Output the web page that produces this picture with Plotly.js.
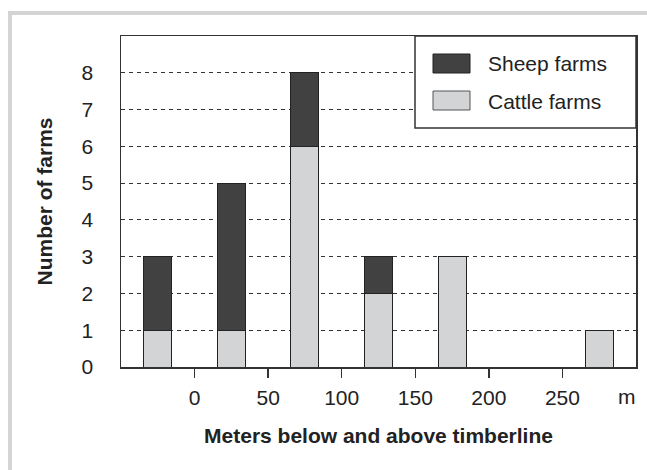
<!DOCTYPE html>
<html>
<head>
<meta charset="utf-8">
<script src="https://cdn.plot.ly/plotly-3.0.1.min.js"></script>
<style>
  html, body { margin: 0; padding: 0; background: #fff; }
  #chart { width: 647px; height: 470px; }
</style>
</head>
<body>
<div id="chart"></div>
<script>
// Data (meters below/above timberline, bar centers)
const elevation = [-25, 25, 75, 125, 175, 275];
const cattleFarms = [1, 1, 6, 2, 3, 1];
const sheepFarms = [2, 4, 2, 1, 0, 0];
const xTickVals = [0, 50, 100, 150, 200, 250];
const yTickVals = [0, 1, 2, 3, 4, 5, 6, 7, 8];
const seriesNames = ["Sheep farms", "Cattle farms"];

const W = 647, H = 470;
const L = 121, R = 11, T = 36, B = 103;
const pw = W - L - R, ph = H - T - B;
const px = v => (v - L) / pw;
const py = v => (H - B - v) / ph;

const textColor = "#222";
const lineColor = "#333";
const sheepColor = "#414141";
const cattleColor = "#d3d4d6";
const font = "Liberation Sans, Arial, sans-serif";
const fs = 21;

const traces = [
  {
    type: "bar", x: elevation, y: cattleFarms, name: seriesNames[1], width: 19,
    marker: { color: cattleColor, line: { color: "#222", width: 1 } },
    hoverinfo: "x+y+name"
  },
  {
    type: "bar", x: elevation, y: sheepFarms.map(v => v === 0 ? null : v), name: seriesNames[0], width: 19,
    marker: { color: sheepColor, line: { color: "#222", width: 1 } },
    hoverinfo: "x+y+name"
  }
];

const shapes = [
  // outer light gray frame
  { type: "rect", xref: "paper", yref: "paper", layer: "below",
    x0: px(10), x1: px(700), y0: py(520), y1: py(13),
    line: { color: "#d4d4d4", width: 4 }, fillcolor: "rgba(0,0,0,0)" },
  // legend box
  { type: "rect", xref: "paper", yref: "paper", layer: "above",
    x0: px(415), x1: 1, y0: py(128), y1: 1,
    line: { color: lineColor, width: 1.5 }, fillcolor: "#fff" },
  // legend swatches
  { type: "rect", xref: "paper", yref: "paper", layer: "above",
    x0: px(433), x1: px(470), y0: py(73), y1: py(54),
    line: { color: "#222", width: 1 }, fillcolor: sheepColor },
  { type: "rect", xref: "paper", yref: "paper", layer: "above",
    x0: px(433), x1: px(470), y0: py(110), y1: py(91),
    line: { color: "#555", width: 1 }, fillcolor: cattleColor }
];

const annotations = [
  { xref: "paper", yref: "paper", x: px(486), y: py(63.5), xanchor: "left", yanchor: "middle",
    text: seriesNames[0], showarrow: false, font: { family: font, size: fs, color: textColor } },
  { xref: "paper", yref: "paper", x: px(486), y: py(101.7), xanchor: "left", yanchor: "middle",
    text: seriesNames[1], showarrow: false, font: { family: font, size: fs, color: textColor } },
  { xref: "paper", yref: "paper", x: px(626.7), y: py(397), xanchor: "center", yanchor: "middle",
    text: "m", showarrow: false, font: { family: font, size: fs, color: textColor } }
];

const layout = {
  width: W, height: H,
  margin: { l: L, r: R, t: T, b: B },
  paper_bgcolor: "#fff", plot_bgcolor: "#fff",
  barmode: "stack",
  showlegend: false,
  font: { family: font, size: fs, color: textColor },
  xaxis: {
    range: [-50, 300],
    tickvals: xTickVals,
    ticks: "outside", ticklen: 9, tickwidth: 1.5, tickcolor: lineColor,
    ticklabelstandoff: 2,
    showgrid: false, zeroline: false,
    showline: true, mirror: true, linecolor: lineColor, linewidth: 1.5,
    tickfont: { family: font, size: fs, color: textColor },
    title: { text: "<b>Meters below and above timberline</b>", standoff: 20,
             font: { family: font, size: fs, color: textColor } }
  },
  yaxis: {
    range: [0, 9],
    tickvals: yTickVals,
    ticks: "", ticklabelstandoff: 22,
    showgrid: true, gridcolor: lineColor, gridwidth: 1, griddash: "4px,4px",
    zeroline: false,
    showline: true, mirror: true, linecolor: lineColor, linewidth: 1.5,
    tickfont: { family: font, size: fs, color: textColor },
    title: { text: "<b>Number of farms</b>", standoff: 23,
             font: { family: font, size: fs, color: textColor } }
  },
  shapes: shapes,
  annotations: annotations
};

Plotly.newPlot("chart", traces, layout, { displayModeBar: false, staticPlot: true });
</script>
</body>
</html>
